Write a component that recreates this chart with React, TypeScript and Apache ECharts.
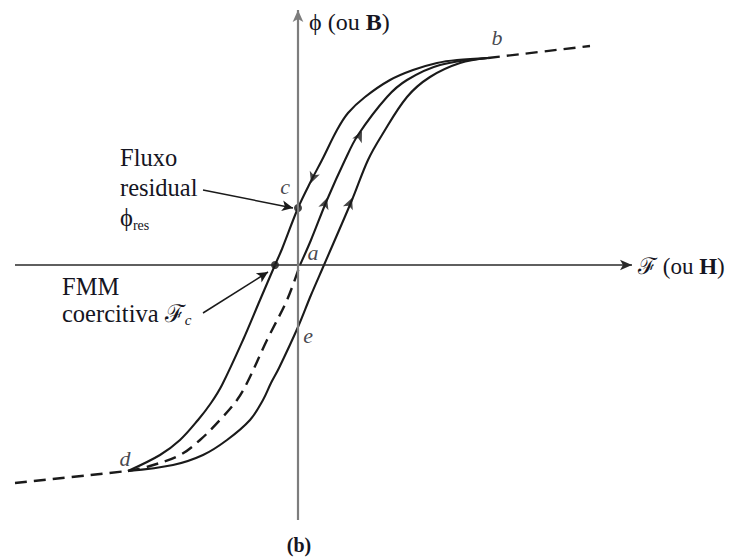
import React, { useEffect, useRef } from "react";
import * as echarts from "echarts";

// Hysteresis loop – magnetomotive force ℱ (x) versus flux ϕ (y), arbitrary units
const descendingBranch: [number, number][] = [
  [1.9, 2.07], [1.59, 2.05], [1.39, 2.02], [1.15, 1.95], [0.92, 1.85], [0.67, 1.68],
  [0.5, 1.52], [0.39, 1.35], [0.24, 1.05], [0.13, 0.84], [0.0, 0.57], [-0.16, 0.16],
  [-0.23, 0.0], [-0.38, -0.35], [-0.55, -0.75], [-0.76, -1.2], [-0.87, -1.38],
  [-1.0, -1.55], [-1.18, -1.75], [-1.38, -1.9], [-1.7, -2.06],
];
const ascendingBranch: [number, number][] = [
  [-1.7, -2.06], [-1.25, -2.0], [-0.95, -1.9], [-0.71, -1.75], [-0.48, -1.55],
  [-0.35, -1.35], [-0.27, -1.18], [-0.19, -1.03], [0.0, -0.62], [0.13, -0.3],
  [0.26, 0.0], [0.54, 0.65], [0.7, 1.05], [0.84, 1.3], [1.09, 1.68], [1.32, 1.88],
  [1.62, 2.02], [1.9, 2.07],
];
const initialCurveSolid: [number, number][] = [
  [0.02, 0.0], [0.13, 0.25], [0.29, 0.65], [0.47, 1.05], [0.6, 1.3], [0.89, 1.68],
  [1.09, 1.85], [1.42, 2.0], [1.9, 2.07],
];
const initialCurveDashed: [number, number][] = [
  [-1.7, -2.06], [-1.48, -2.01], [-1.18, -1.9], [-0.98, -1.75], [-0.78, -1.55],
  [-0.61, -1.35], [-0.51, -1.18], [-0.31, -0.75], [-0.11, -0.35], [0.02, 0.0],
];
const saturationUpper: [number, number][] = [[1.9, 2.07], [2.92, 2.19]];
const saturationLower: [number, number][] = [[-2.83, -2.18], [-1.7, -2.06]];

// marked points: residual flux (c) and coercive MMF
const markedPoints: [number, number][] = [[0.0, 0.57], [-0.23, 0.0]];

// direction arrows on the loop: [x, y]
const directionArrows: [number, number][] = [[0.13, 0.82], [0.29, 0.67], [0.64, 1.34], [0.54, 0.67]];
const directionAngles = [160, -19, -27, -22];

// point letters
const letterNames = ["a", "b", "c", "d", "e"];
const letterAnchors: [number, number][] = [[0, 0], [1.9, 2.07], [0, 0.57], [-1.7, -2.06], [0, -0.62]];

// axes extents
const hAxisExtent: [number, number] = [-2.83, 3.34];
const vAxisExtent: [number, number] = [-2.55, 2.55];

// annotation arrows [start, end]
const residualArrow: [number, number][] = [[-0.95, 0.75], [-0.05, 0.57]];
const coerciveArrow: [number, number][] = [[-0.95, -0.48], [-0.3, -0.07]];

const X_MIN = -2.98, X_MAX = 4.36, Y_MIN = -2.92, Y_MAX = 2.65;
const SERIF = "'Liberation Serif', 'DejaVu Serif', serif";
const INK = "#1a1a1a";
const TEXT = "#151522";

export default function App() {
  const ref = useRef<HTMLDivElement>(null);
  useEffect(() => {
    if (!ref.current) return;
    const chart = echarts.init(ref.current, undefined, { renderer: "svg" });
    const labelOffsets: Record<string, [number, number]> = {
      a: [15, -13], b: [9, -21], c: [-13, -22], d: [-3, -13], e: [10, 8],
    };
    const curve = (data: [number, number][], dashed: boolean) => ({
      type: "line",
      data,
      smooth: 0.35,
      symbol: "none",
      silent: true,
      clip: false,
      lineStyle: { color: INK, width: dashed ? 2.4 : 2.1, type: dashed ? [12, 7] : "solid" },
    });
    const arrowEnd = (coord: [number, number], color: string, size: [number, number]) => ({
      coord,
      symbol: "arrow",
      symbolSize: size,
      itemStyle: { color },
    });
    chart.setOption({
      animation: false,
      backgroundColor: "#ffffff",
      grid: { left: 0, right: 0, top: 0, bottom: 0 },
      xAxis: { type: "value", min: X_MIN, max: X_MAX, show: false },
      yAxis: { type: "value", min: Y_MIN, max: Y_MAX, show: false },
      series: [
        {
          type: "line",
          data: [],
          silent: true,
          markLine: {
            silent: true,
            symbol: ["none", "arrow"],
            symbolSize: 10,
            label: { show: false },
            emphasis: { disabled: true },
            itemStyle: { color: INK },
            data: [
              [
                { coord: [hAxisExtent[0], 0], symbol: "none", lineStyle: { color: "#2a2a2a", width: 1.6, type: "solid" } },
                arrowEnd([hAxisExtent[1], 0], "#2a2a2a", [8, 12]),
              ],
              [
                { coord: [0, vAxisExtent[0]], symbol: "none", lineStyle: { color: "#7d7d7d", width: 2.2, type: "solid" } },
                arrowEnd([0, vAxisExtent[1]], "#333", [8, 12]),
              ],
              [
                { coord: residualArrow[0], symbol: "none", lineStyle: { color: INK, width: 1.5, type: "solid", curveness: -0.14 } },
                arrowEnd(residualArrow[1], INK, [8, 11]),
              ],
              [
                { coord: coerciveArrow[0], symbol: "none", lineStyle: { color: INK, width: 1.5, type: "solid", curveness: -0.18 } },
                arrowEnd(coerciveArrow[1], INK, [8, 11]),
              ],
            ],
          },
        },
        curve(descendingBranch, false),
        curve(ascendingBranch, false),
        curve(initialCurveSolid, false),
        curve(initialCurveDashed, true),
        curve(saturationUpper, true),
        curve(saturationLower, true),
        {
          type: "scatter",
          silent: true,
          data: directionArrows.map((p, i) => ({ value: p, symbolRotate: directionAngles[i] })),
          symbol: "arrow",
          symbolSize: [8, 11],
          itemStyle: { color: INK },
        },
        {
          type: "scatter",
          silent: true,
          data: markedPoints,
          symbol: "circle",
          symbolSize: 8,
          itemStyle: { color: "#111" },
        },
        {
          type: "scatter",
          silent: true,
          symbolSize: 0,
          data: letterNames.map((n, i) => ({
            name: n,
            value: letterAnchors[i],
            label: {
              show: true,
              position: "inside",
              offset: labelOffsets[n],
              formatter: n,
              fontFamily: SERIF,
              fontStyle: "italic",
              fontSize: 22,
              color: TEXT,
            },
          })),
        },
      ],
      graphic: [
        {
          type: "text",
          x: 309,
          y: 22,
          style: {
            text: "{t|ϕ (ou }{b|B}{t|)}",
            verticalAlign: "middle",
            rich: {
              t: { fontFamily: SERIF, fontSize: 24, fill: TEXT },
              b: { fontFamily: SERIF, fontSize: 24, fontWeight: "bold", fill: TEXT },
            },
          },
        },
        {
          type: "text",
          x: 638,
          y: 266,
          style: {
            text: "{t|ℱ (ou }{b|H}{t|)}",
            verticalAlign: "middle",
            rich: {
              t: { fontFamily: SERIF, fontSize: 23, fill: TEXT },
              b: { fontFamily: SERIF, fontSize: 23, fontWeight: "bold", fill: TEXT },
            },
          },
        },
        {
          type: "text",
          x: 120,
          y: 142,
          style: {
            text: "{t|Fluxo}\n{t|residual}\n{t|ϕ}{s|res}",
            verticalAlign: "top",
            rich: {
              t: { fontFamily: SERIF, fontSize: 24.5, lineHeight: 30, fill: TEXT },
              s: { fontFamily: SERIF, fontSize: 14, lineHeight: 14, verticalAlign: "bottom", fill: TEXT },
            },
          },
        },
        {
          type: "text",
          x: 62,
          y: 273,
          style: {
            text: "{t|FMM}\n{t|coercitiva }{t|ℱ}{s|c}",
            verticalAlign: "top",
            rich: {
              t: { fontFamily: SERIF, fontSize: 24.5, lineHeight: 27, fill: TEXT },
              s: { fontFamily: SERIF, fontStyle: "italic", fontSize: 15, lineHeight: 12, verticalAlign: "bottom", fill: TEXT },
            },
          },
        },
        {
          type: "text",
          x: 299,
          y: 545,
          style: {
            text: "(b)",
            align: "center",
            verticalAlign: "middle",
            fontFamily: SERIF,
            fontWeight: "bold",
            fontSize: 20,
            fill: TEXT,
          },
        },
      ],
    });
    return () => chart.dispose();
  }, []);
  return (
    <div
      ref={ref}
      style={{ position: "fixed", left: 0, top: 0, width: 734, height: 557, background: "#fff" }}
    />
  );
}
